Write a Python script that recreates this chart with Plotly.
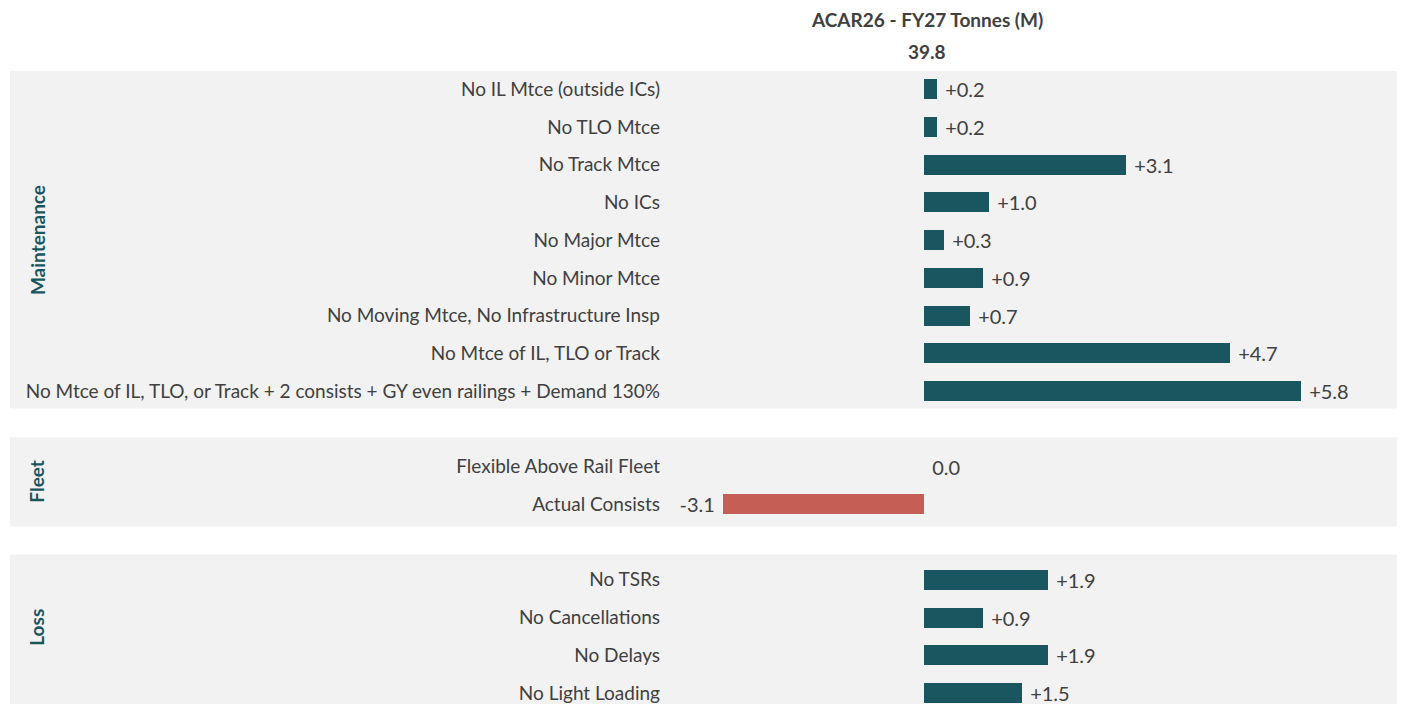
import plotly.graph_objects as go

# ── Data ──────────────────────────────────────────────────────────────────────
maintenance_labels = [
    "No IL Mtce (outside ICs)",
    "No TLO Mtce",
    "No Track Mtce",
    "No ICs",
    "No Major Mtce",
    "No Minor Mtce",
    "No Moving Mtce, No Infrastructure Insp",
    "No Mtce of IL, TLO or Track",
    "No Mtce of IL, TLO, or Track + 2 consists + GY even railings + Demand 130%",
]
maintenance_values = [0.2, 0.2, 3.1, 1.0, 0.3, 0.9, 0.7, 4.7, 5.8]

fleet_labels = ["Flexible Above Rail Fleet", "Actual Consists"]
fleet_values = [0.0, -3.1]

loss_labels = ["No TSRs", "No Cancellations", "No Delays", "No Light Loading"]
loss_values = [1.9, 0.9, 1.9, 1.5]

group_names = ["Maintenance", "Fleet", "Loss"]
title_text = "ACAR26 - FY27 Tonnes (M)"
baseline_text = "39.8"

# ── Style ─────────────────────────────────────────────────────────────────────
TEAL = "#1A5660"
RED = "#C55E55"
BAND = "#F2F2F2"
TEXT = "#404040"
FONT = "Lato"
SIZE = 19
VAL_SIZE = 20

# band extents (row units) and group label centres
BAND_Y = [(-0.477, 8.46), (9.23, 11.59), (12.33, 17.5)]
GROUP_Y = [4.0, 10.4, 14.27]

# ── Row positions (blank row between groups) ─────────────────────────────────
groups = [maintenance_labels, fleet_labels, loss_labels]
group_vals = [maintenance_values, fleet_values, loss_values]
labels, values, pos = [], [], []
k = 0
for labs, vals in zip(groups, group_vals):
    for lab, v in zip(labs, vals):
        labels.append(lab)
        values.append(v)
        pos.append(k)
        k += 1
    k += 1


def fmt(v):
    if v == 0:
        return "\u00a00.0"
    if v < 0:
        return f"{v:.1f}\u00a0"
    return f"\u00a0{v:+.1f}"


colors = [RED if v < 0 else TEAL for v in values]

fig = go.Figure(go.Bar(
    x=values, y=pos, orientation="h",
    marker=dict(color=colors, line=dict(width=0)),
    width=0.53,
    text=[fmt(v) for v in values],
    textposition="outside",
    constraintext="none",
    textfont=dict(family=FONT, size=VAL_SIZE, color=TEXT),
    cliponaxis=False,
    hoverinfo="skip",
))

# grey bands behind each group
for y0, y1 in BAND_Y:
    fig.add_shape(
        type="rect", xref="paper", yref="y",
        x0=-0.875, x1=1.011, y0=y0, y1=y1,
        fillcolor=BAND, line=dict(width=0), layer="below",
    )

for name, yc in zip(group_names, GROUP_Y):
    fig.add_annotation(
        text=f"<b>{name}</b>", xref="paper", yref="y",
        x=-0.8387, y=yc, xanchor="center", yanchor="middle",
        textangle=-90, showarrow=False,
        font=dict(family=FONT, size=SIZE, color=TEAL),
    )

fig.add_annotation(
    text=f"<b>{title_text}</b>", xref="x", yref="paper",
    x=0.05, y=1, yshift=52, showarrow=False, yanchor="middle",
    font=dict(family=FONT, size=SIZE, color=TEXT),
)
fig.add_annotation(
    text=f"<b>{baseline_text}</b>", xref="x", yref="paper",
    x=0.05, y=1, yshift=20, showarrow=False, yanchor="middle",
    font=dict(family=FONT, size=SIZE, color=TEXT),
)

fig.update_layout(
    width=1397, height=696,
    paper_bgcolor="white", plot_bgcolor="rgba(0,0,0,0)",
    margin=dict(l=653, r=0, t=63, b=0),
    showlegend=False,
    font=dict(family=FONT, size=SIZE, color=TEXT),
    bargap=0,
)
fig.update_xaxes(
    range=[-263 / 65, 481 / 65], visible=False, fixedrange=True,
)
fig.update_yaxes(
    range=[16.29, -0.48], tickvals=pos, ticktext=labels,
    showgrid=False, zeroline=False, showline=False, ticks="",
    tickfont=dict(family=FONT, size=SIZE, color=TEXT),
    automargin=False, fixedrange=True,
)

fig.write_html("out.html")
